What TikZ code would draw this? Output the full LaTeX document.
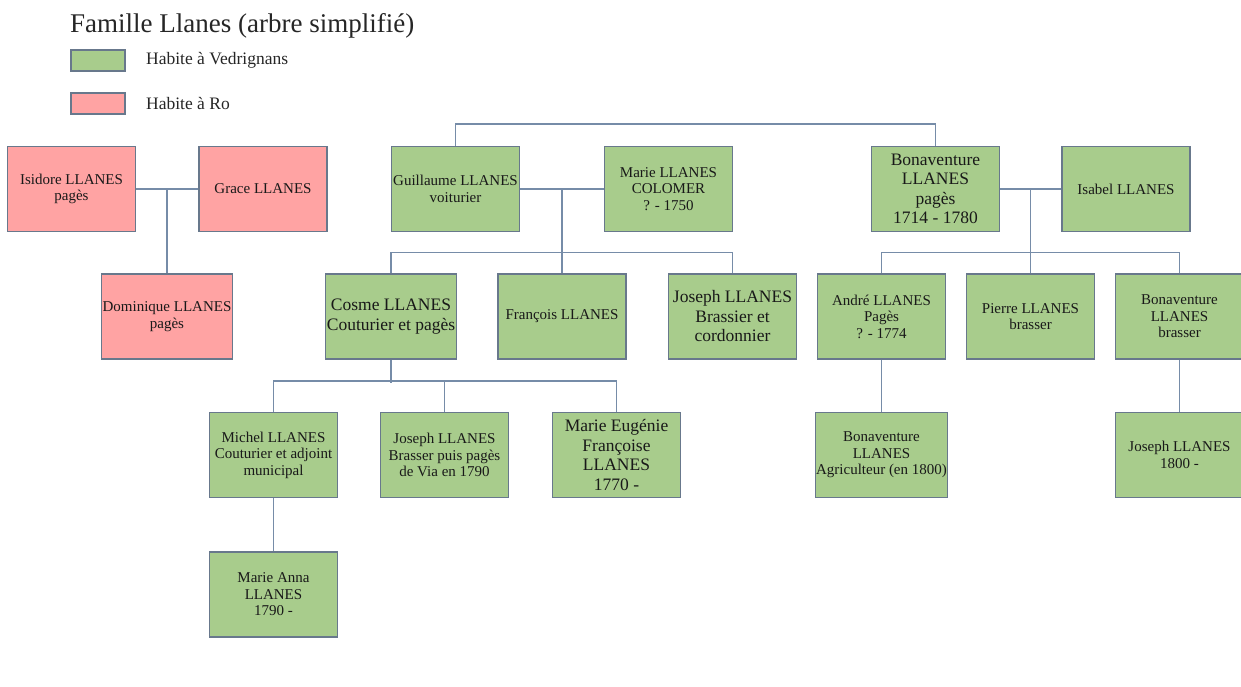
\documentclass[tikz,border=0pt]{standalone}
\usepackage{fontspec}
\setmainfont{Liberation Serif}
\usetikzlibrary{calc}
\definecolor{vedgreen}{RGB}{168,204,140}
\definecolor{ropink}{RGB}{255,163,163}
\definecolor{boxedge}{RGB}{104,120,140}
\definecolor{linkblue}{RGB}{118,140,168}
\tikzset{
	person/.style={draw=boxedge, line width=1.1pt, minimum width=128pt, minimum height=85pt, inner sep=1pt, align=center, text=black!90, font=\fontsize{15}{16.5}\selectfont},
	vedrignans/.style={person, fill=vedgreen},
	ro/.style={person, fill=ropink},
	bigtext/.style={font=\fontsize{17.5}{19.5}\selectfont},
	link/.style={draw=linkblue, line width=1.3pt}
}

\begin{document}
\begin{tikzpicture}[x=1pt, y=-1pt]
			%%%%% START %%%%%
			
			\useasboundingbox (0, 0) rectangle (1241, 686);
			\fill[white] (0, 0) rectangle (1241, 686);
			
			\node[anchor=base west, inner sep=0pt, font=\fontsize{27}{29}\selectfont, text=black!85] (title) at (70, 32) {Famille Llanes (arbre simplifié)};
			
			% legende
			\node[draw=boxedge, line width=1.1pt, fill=vedgreen, minimum width=54pt, minimum height=21pt, inner sep=0pt] (keyved) at (98, 60.5) {};
			\node[draw=boxedge, line width=1.1pt, fill=ropink, minimum width=54pt, minimum height=21pt, inner sep=0pt] (keyro) at (98, 103.5) {};
			\node[anchor=west, inner sep=0pt, font=\fontsize{17.5}{19}\selectfont, text=black!85] (keyvedtext) at (146, 60.5) {Habite à Vedrignans};
			\node[anchor=west, inner sep=0pt, font=\fontsize{17.5}{19}\selectfont, text=black!85] (keyrotext) at (146, 103.5) {Habite à Ro};
			
			% Ro
			\node[ro] (isidore) at (71.5, 189) {Isidore LLANES\\pagès};
			\node[ro] (grace) at (263, 189) {Grace LLANES};
			\node[ro] (dominique) at (167, 316.5) {Dominique LLANES\\pagès};
			
			% generation 1
			\node[vedrignans] (guillaume) at (455.5, 189) {Guillaume LLANES\\voiturier};
			\node[vedrignans] (mariecolomer) at (668.5, 189) {Marie LLANES\\COLOMER\\? - 1750};
			\node[vedrignans, bigtext] (bonaventurea) at (935.5, 189) {Bonaventure\\LLANES\\pagès\\1714 - 1780};
			\node[vedrignans] (isabel) at (1126, 189) {Isabel LLANES};
			
			% generation 2
			\node[vedrignans, bigtext] (cosme) at (391, 316.5) {Cosme LLANES\\Couturier et pagès};
			\node[vedrignans] (francois) at (562, 316.5) {François LLANES};
			\node[vedrignans, bigtext] (josepha) at (732.5, 316.5) {Joseph LLANES\\Brassier et\\cordonnier};
			\node[vedrignans] (andre) at (881.5, 316.5) {André LLANES\\Pagès\\? - 1774};
			\node[vedrignans] (pierre) at (1030.5, 316.5) {Pierre LLANES\\brasser};
			\node[vedrignans] (bonaventureb) at (1179.5, 316.5) {Bonaventure\\LLANES\\brasser};
			
			% generation 3
			\node[vedrignans] (michel) at (273.5, 455) {Michel LLANES\\Couturier et adjoint\\municipal};
			\node[vedrignans] (josephb) at (444.5, 455) {Joseph LLANES\\Brasser puis pagès\\de Via en 1790};
			\node[vedrignans, bigtext] (marieeugenie) at (616.5, 455) {Marie Eugénie\\Françoise\\LLANES\\1770 -};
			\node[vedrignans] (bonaventurec) at (881.5, 455) {Bonaventure\\LLANES\\Agriculteur (en 1800)};
			\node[vedrignans] (josephc) at (1179.5, 455) {Joseph LLANES\\1800 -};
			
			% generation 4
			\node[vedrignans] (marieanna) at (273.5, 594.5) {Marie Anna\\LLANES\\1790 -};
			
			% liens
			\draw[link] (isidore.east) -- (grace.west);
			\draw[link] (dominique.north) -- (dominique.north |- isidore.east);
			
			\draw[link] (guillaume.north) -- ++(0, -22) -| (bonaventurea.north);
			
			\draw[link] (guillaume.east) -- (mariecolomer.west);
			\draw[link] (francois.north) -- (francois.north |- guillaume.east);
			\draw[link] (cosme.north) -- ++(0, -21) -| (josepha.north);
			
			\draw[link] (bonaventurea.east) -- (isabel.west);
			\draw[link] (pierre.north) -- (pierre.north |- isabel.west);
			\draw[link] (andre.north) -- ++(0, -21) -| (bonaventureb.north);
			
			\draw[link] (cosme.south) -- ++(0, 23);
			\draw[link] (michel.north) -- ++(0, -31) -| (marieeugenie.north);
			\draw[link] (josephb.north) -- ++(0, -31);
			
			\draw[link] (michel.south) -- (marieanna.north);
			\draw[link] (andre.south) -- (bonaventurec.north);
			\draw[link] (bonaventureb.south) -- (josephc.north);
			
			%%%%% END %%%%%
\end{tikzpicture}
\end{document}
